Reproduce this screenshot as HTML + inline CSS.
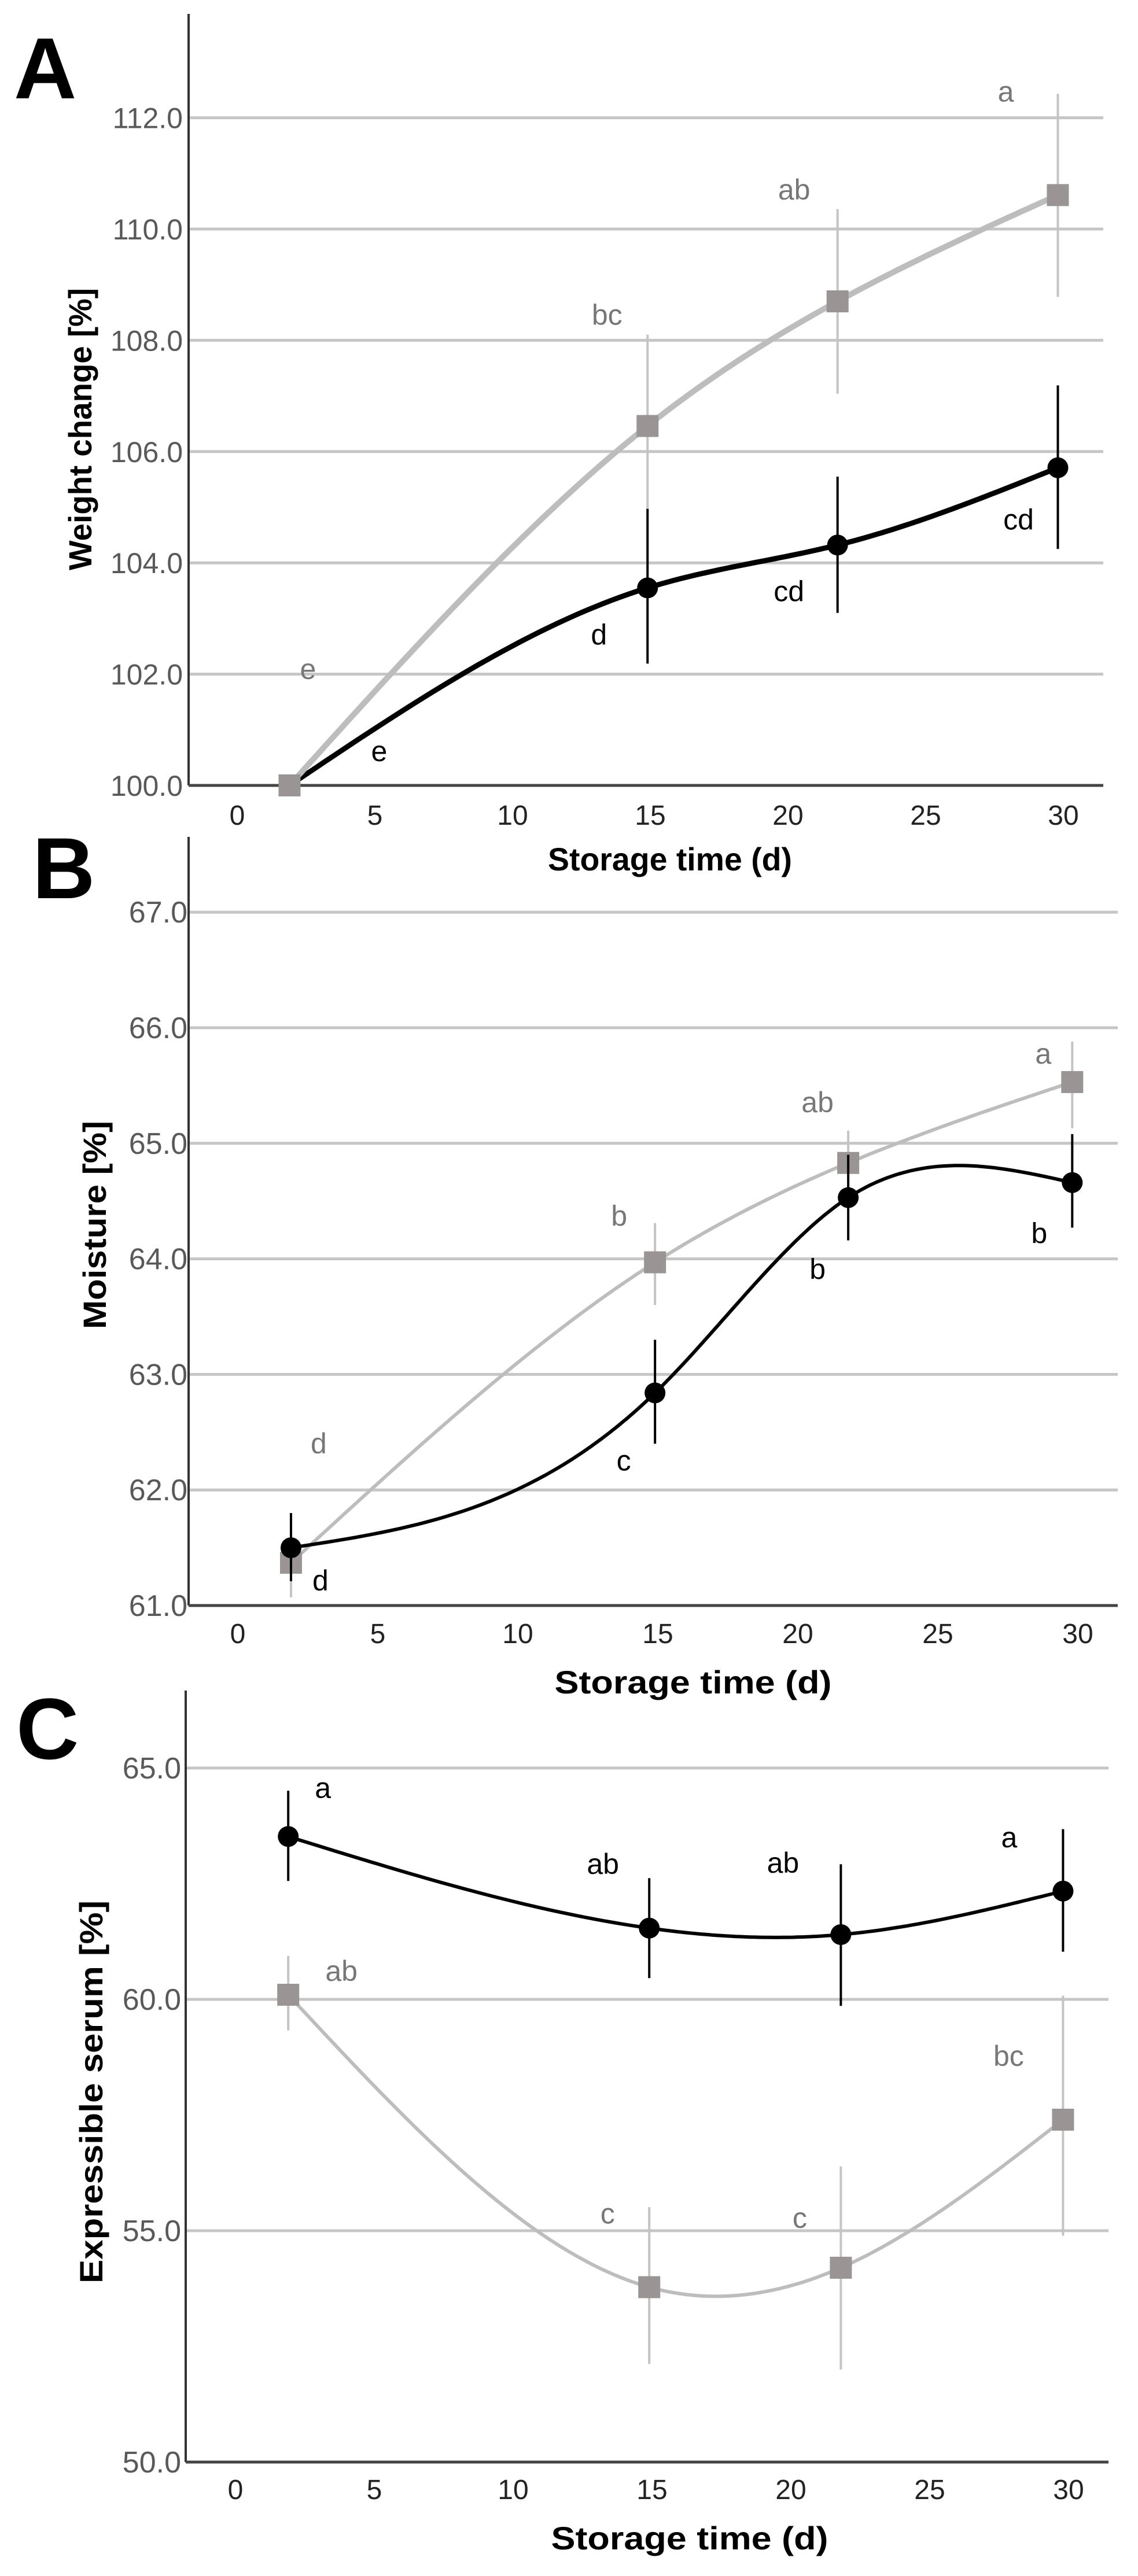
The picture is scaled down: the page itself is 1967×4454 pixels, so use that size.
<!DOCTYPE html>
<html><head><meta charset="utf-8"><title>Storage time charts</title>
<style>
html,body{margin:0;padding:0;background:#fff;}
svg{display:block;}
text{font-family:"Liberation Sans",sans-serif;}
</style></head>
<body>
<svg id="fig" width="1967" height="4454" viewBox="0 0 1967 4454" xmlns="http://www.w3.org/2000/svg"></svg>
<script>
// ---- shared data ----
const days = [1.9, 14.9, 21.8, 29.8];
const xTicks = [0, 5, 10, 15, 20, 25, 30];

// Panel A: weight change
const aYTicks = [100, 102, 104, 106, 108, 110, 112];
const aGray = [100.0, 106.46, 108.70, 110.61];
const aGrayHi = [100.0, 108.10, 110.36, 112.43];
const aGrayLo = [100.0, 104.97, 107.04, 108.78];
const aBlack = [100.0, 103.55, 104.32, 105.71];
const aBlackHi = [100.0, 104.99, 105.55, 107.19];
const aBlackLo = [100.0, 102.19, 103.10, 104.25];
const aGrayLetters = ["e", "bc", "ab", "a"];
const aBlackLetters = ["e", "d", "cd", "cd"];

// Panel B: moisture
const bYTicks = [61, 62, 63, 64, 65, 66, 67];
const bGray = [61.37, 63.97, 64.83, 65.53];
const bGrayHi = [61.73, 64.31, 65.11, 65.88];
const bGrayLo = [61.07, 63.60, 64.54, 65.13];
const bBlack = [61.50, 62.84, 64.53, 64.66];
const bBlackHi = [61.80, 63.30, 64.90, 65.08];
const bBlackLo = [61.21, 62.40, 64.16, 64.27];
const bGrayLetters = ["d", "b", "ab", "a"];
const bBlackLetters = ["d", "c", "b", "b"];

// Panel C: expressible serum
const cYTicks = [50, 55, 60, 65];
const cGray = [60.10, 53.78, 54.20, 57.40];
const cGrayHi = [60.94, 55.51, 56.39, 60.08];
const cGrayLo = [59.33, 52.12, 52.00, 54.89];
const cBlack = [63.52, 61.54, 61.40, 62.34];
const cBlackHi = [64.51, 62.62, 62.92, 63.68];
const cBlackLo = [62.56, 60.46, 59.86, 61.03];
const cGrayLetters = ["ab", "c", "c", "bc"];
const cBlackLetters = ["a", "ab", "ab", "a"];

const NS = "http://www.w3.org/2000/svg";
const svg = document.getElementById("fig");
function mk(tag, attrs, parent) {
  const e = document.createElementNS(NS, tag);
  for (const k in attrs) e.setAttribute(k, attrs[k]);
  (parent || svg).appendChild(e);
  return e;
}

function spline(px, py) {
  const n = px.length, h = [], al = [], l = [1], mu = [0], z = [0], c = new Array(n).fill(0), b = [], d = [];
  for (let i = 0; i < n - 1; i++) h.push(px[i + 1] - px[i]);
  for (let i = 1; i < n - 1; i++) al[i] = 3 / h[i] * (py[i + 1] - py[i]) - 3 / h[i - 1] * (py[i] - py[i - 1]);
  for (let i = 1; i < n - 1; i++) {
    l[i] = 2 * (px[i + 1] - px[i - 1]) - h[i - 1] * mu[i - 1];
    mu[i] = h[i] / l[i];
    z[i] = (al[i] - h[i - 1] * z[i - 1]) / l[i];
  }
  l[n - 1] = 1; z[n - 1] = 0;
  for (let j = n - 2; j >= 0; j--) {
    c[j] = z[j] - mu[j] * c[j + 1];
    b[j] = (py[j + 1] - py[j]) / h[j] - h[j] * (c[j + 1] + 2 * c[j]) / 3;
    d[j] = (c[j + 1] - c[j]) / (3 * h[j]);
  }
  let s = "M" + px[0].toFixed(1) + "," + py[0].toFixed(1);
  for (let j = 0; j < n - 1; j++) {
    for (let k = 1; k <= 40; k++) {
      const t = h[j] * k / 40;
      const y = py[j] + b[j] * t + c[j] * t * t + d[j] * t * t * t;
      s += " L" + (px[j] + t).toFixed(1) + "," + y.toFixed(1);
    }
  }
  return s;
}

function panel(cfg, name) {
  const g = mk("g", {});
  
  
  const X = d => cfg.day0 + cfg.perDay * d;
  const Y = v => cfg.bot - (v - cfg.vMin) * cfg.perV;

  const pl = mk("text", {x: cfg.letterX, y: cfg.letterY, "font-size": 150, "font-weight": "bold", fill: "#000"}, g);
  pl.textContent = cfg.letter;
  
  

  cfg.yTicks.forEach(v => {
    if (v !== cfg.vMin) {
      const gl = mk("line", {x1: cfg.x0, x2: cfg.x1, y1: Y(v), y2: Y(v), stroke: "#c6c6c6", "stroke-width": 5}, g);
      
      
    }
    const t = mk("text", {x: cfg.yLabRight, y: Y(v) + 18, "font-size": cfg.yFont, fill: "#595959", "text-anchor": "end"}, g);
    t.textContent = v.toFixed(1);
    
    
  });
  const ya = mk("line", {x1: cfg.x0, x2: cfg.x0, y1: cfg.top, y2: cfg.bot, stroke: "#333", "stroke-width": 4}, g);
  
  
  const xa = mk("line", {x1: cfg.x0, x2: cfg.x1, y1: cfg.bot, y2: cfg.bot, stroke: "#444", "stroke-width": 5}, g);
  
  
  xTicks.forEach(d => {
    const t = mk("text", {x: X(d), y: cfg.xLabY + 17, "font-size": 48, fill: "#222", "text-anchor": "middle"}, g);
    t.textContent = d;
    
    
  });
  const xt = mk("text", {x: cfg.xTitleX, y: cfg.xTitleY + 19, "font-size": 56, "font-weight": "bold", fill: "#000", "text-anchor": "middle", textLength: cfg.xTitleW, lengthAdjust: "spacingAndGlyphs"}, g);
  xt.textContent = "Storage time (d)";
  
  
  const yt = mk("text", {x: 0, y: 0, "font-size": 56, "font-weight": "bold", fill: "#000", "text-anchor": "middle", textLength: cfg.yTitleW, lengthAdjust: "spacingAndGlyphs", transform: "translate(" + (cfg.yTitleX + 19) + "," + cfg.yTitleY + ") rotate(-90)"}, g);
  yt.textContent = cfg.yTitle;
  
  

  function series(vals, hi, lo, letters, color, barColor, lineW, isSq, sname, letterDy, letterColor) {
    const sg = mk("g", {}, g);
    
    
    days.forEach((d, i) => {
      if (hi[i] !== lo[i]) {
        const e = mk("line", {x1: X(d), x2: X(d), y1: Y(hi[i]), y2: Y(lo[i]), stroke: barColor, "stroke-width": 4}, sg);
        
        
      }
    });
    const p = mk("path", {d: spline(days.map(X), vals.map(Y)), fill: "none", stroke: color, "stroke-width": lineW, "stroke-linejoin": "round"}, sg);
    
    
    days.forEach((d, i) => {
      let m;
      if (isSq) m = mk("rect", {x: X(d) - 19, y: Y(vals[i]) - 19, width: 38, height: 38, fill: "#9a9494"}, sg);
      else m = mk("circle", {cx: X(d), cy: Y(vals[i]), r: 18, fill: "#000"}, sg);
      
      
      const off = letterDy[i];
      const t = mk("text", {x: X(d) + off[0], y: Y(vals[i]) + off[1] + 17, "font-size": 50, fill: letterColor, "text-anchor": "middle"}, sg);
      t.textContent = letters[i];
      
      
    });
  }
  const drawGray = () => series(cfg.gray, cfg.grayHi, cfg.grayLo, cfg.grayLetters, "#bdbdbd", "#c4c4c4", cfg.grayW, true, "series-gray", cfg.gOff, "#777");
  const drawBlack = () => series(cfg.black, cfg.blackHi, cfg.blackLo, cfg.blackLetters, "#000", "#000", cfg.blackW, false, "series-black", cfg.bOff, "#000");
  if (cfg.grayOnTop) { drawBlack(); drawGray(); } else { drawGray(); drawBlack(); }
}

panel({letter: "A", letterX: 24, letterY: 170, x0: 326, x1: 1907, top: 24, bot: 1358, day0: 410, perDay: 47.6, vMin: 100, perV: 96.2,
  yTicks: aYTicks, yLabRight: 316, yFont: 50, xLabY: 1409, xTitleX: 1158, xTitleY: 1486, xTitleW: 422,
  yTitle: "Weight change [%]", yTitleX: 139, yTitleY: 742, yTitleW: 488, grayOnTop: true,
  gray: aGray, grayHi: aGrayHi, grayLo: aGrayLo, grayLetters: aGrayLetters,
  black: aBlack, blackHi: aBlackHi, blackLo: aBlackLo, blackLetters: aBlackLetters, grayW: 10, blackW: 9,
  gOff: [[32, -201], [-70, -192], [-75, -193], [-90, -179]],
  bOff: [[155, -59], [-84, 81], [-84, 80], [-68, 90]]}, "panel-a-weight-change");

panel({letter: "B", letterX: 56, letterY: 1553, x0: 326, x1: 1932, top: 1447, bot: 2776, day0: 411, perDay: 48.4, vMin: 61, perV: 199.8,
  yTicks: bYTicks, yLabRight: 324, yFont: 52, xLabY: 2824, xTitleX: 1198, xTitleY: 2909, xTitleW: 479,
  yTitle: "Moisture [%]", yTitleX: 164, yTitleY: 2118, yTitleW: 360,
  gray: bGray, grayHi: bGrayHi, grayLo: bGrayLo, grayLetters: bGrayLetters,
  black: bBlack, blackHi: bBlackHi, blackLo: bBlackLo, blackLetters: bBlackLetters, grayW: 6, blackW: 6,
  gOff: [[48, -206], [-62, -80], [-53, -105], [-50, -49]],
  bOff: [[51, 57], [-54, 117], [-53, 124], [-57, 88]]}, "panel-b-moisture");

panel({letter: "C", letterX: 28, letterY: 3041, x0: 321, x1: 1916, top: 2923, bot: 4257, day0: 407, perDay: 48.0, vMin: 50, perV: 80,
  yTicks: cYTicks, yLabRight: 313, yFont: 52, xLabY: 4304, xTitleX: 1192, xTitleY: 4389, xTitleW: 479,
  yTitle: "Expressible serum [%]", yTitleX: 158, yTitleY: 3617, yTitleW: 662,
  gray: cGray, grayHi: cGrayHi, grayLo: cGrayLo, grayLetters: cGrayLetters,
  black: cBlack, blackHi: cBlackHi, blackLo: cBlackLo, blackLetters: cBlackLetters, grayW: 6, blackW: 6,
  gOff: [[92, -41], [-72, -127], [-71, -86], [-94, -110]],
  bOff: [[60, -84], [-80, -111], [-100, -124], [-93, -93]]}, "panel-c-expressible-serum");
</script>
</body></html>
